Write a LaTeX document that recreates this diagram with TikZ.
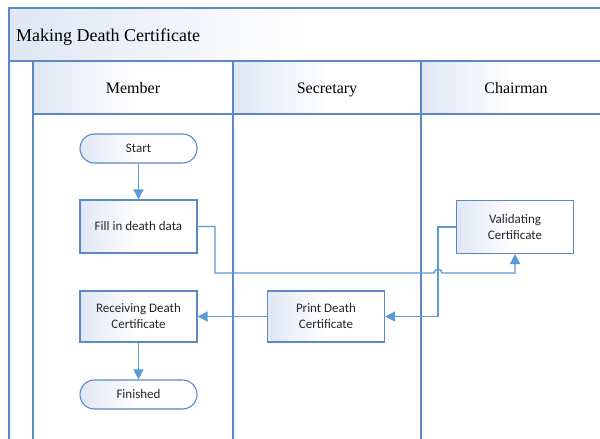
\documentclass[tikz,border=0pt]{standalone}
\usepackage{fontspec}
\setmainfont{Liberation Serif}
\newfontfamily\nodefont{Carlito}
\usetikzlibrary{arrows.meta}
\definecolor{lane}{HTML}{5A8AC6}
\definecolor{conn}{HTML}{5B9BD5}
\definecolor{shadeblue}{HTML}{E0E6F5}
\begin{document}
\begin{tikzpicture}[x=1pt,y=1pt,
  laneline/.style={draw=lane,line width=1.3pt},
  hdr/.style={left color=shadeblue,right color=white,middle color=white},
  proc/.style={draw=lane,line width=1.1pt,left color=shadeblue,right color=white,middle color=white,
    minimum width=117pt,minimum height=53pt,align=center,
    font=\nodefont\fontsize{13}{16}\selectfont,inner sep=2pt,text=black!85},
  term/.style={proc,rounded corners=14.5pt,minimum height=29pt},
  conn/.style={draw=conn,line width=1.4pt},
  arr/.style={conn,-{Triangle[length=10pt,width=10pt]}},
  hdrtext/.style={font=\fontsize{16}{19}\selectfont,inner sep=0pt,anchor=base}
]
\useasboundingbox (0,0) rectangle (600,-439);
\fill[white] (0,0) rectangle (600,-439);
% shaded header areas
\shade[hdr] (9,-8) rectangle (600,-61);
\shade[hdr] (33,-61) rectangle (233,-114);
\shade[hdr] (233,-61) rectangle (421,-114);
\shade[hdr] (421,-61) rectangle (600,-114);
% pool and lane lines
\draw[laneline] (9,-439) -- (9,-8) -- (601,-8);
\draw[laneline] (9,-61) -- (601,-61);
\draw[laneline] (33,-114) -- (601,-114);
\draw[laneline] (33,-61) -- (33,-439);
\draw[laneline] (233,-61) -- (233,-439);
\draw[laneline] (421,-61) -- (421,-439);
% texts
\node[anchor=base west,font=\fontsize{18}{21}\selectfont,inner sep=0pt] (title) at (16,-41) {Making Death Certificate};
\node[hdrtext] (hm) at (133,-93.5) {Member};
\node[hdrtext] (hs) at (327,-93.5) {Secretary};
\node[hdrtext] (hc) at (516,-93.5) {Chairman};
% nodes
\node[term] (start) at (138.5,-148.5) {Start};
\node[proc] (fill) at (138.5,-226.5) {Fill in death data};
\node[proc] (valid) at (515,-227) {Validating\\Certificate};
\node[proc,minimum height=51pt] (print) at (326,-316.5) {Print Death\\Certificate};
\node[proc,minimum height=51pt] (recv) at (138.5,-316.5) {Receiving Death\\Certificate};
\node[term] (fin) at (138.5,-394.5) {Finished};
% connectors
\draw[arr] (start) -- (fill);
\draw[arr] (fill.east) -- (215,-226.5) -- (215,-273) -- (434,-273)
  .. controls (434,-268) and (442,-268) .. (442,-273) -- (515,-273) -- (valid.south);
\draw[arr] (valid.west) -- (438,-227) -- (438,-316.5) -- (print.east);
\draw[arr] (print) -- (recv);
\draw[arr] (recv) -- (fin);
\end{tikzpicture}
\end{document}
